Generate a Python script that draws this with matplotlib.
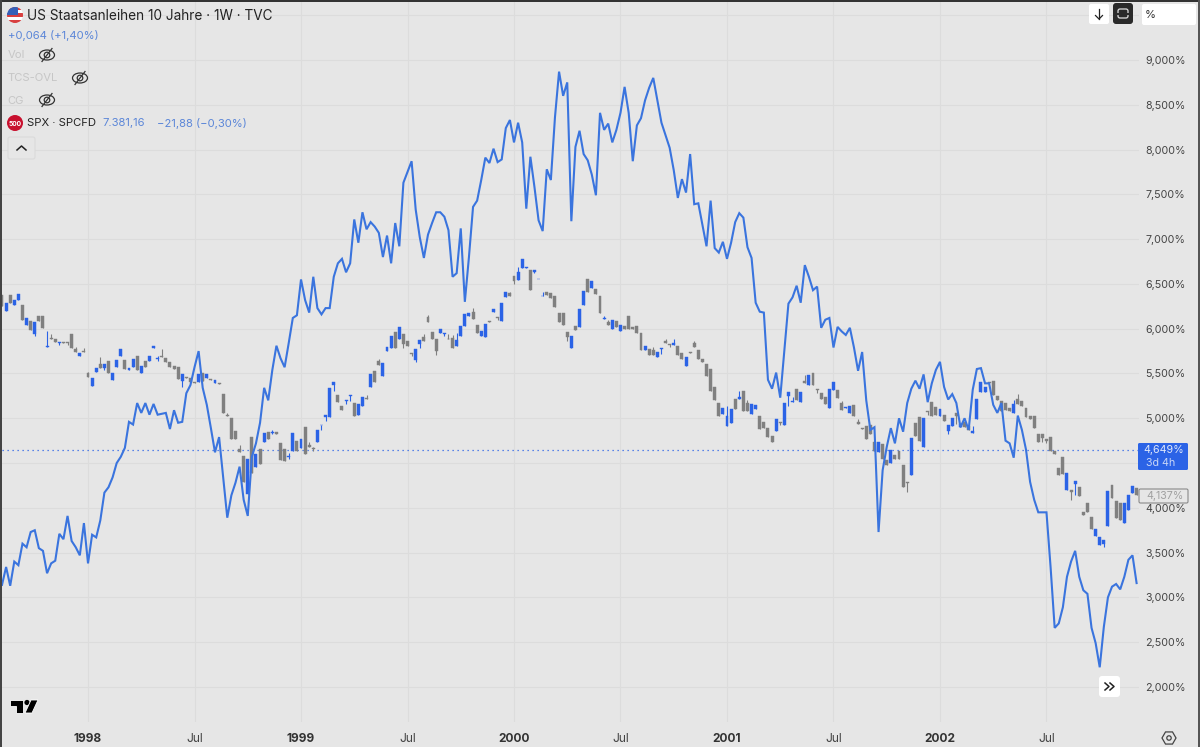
import numpy as np
import matplotlib
matplotlib.use('Agg')
import matplotlib.pyplot as plt
from matplotlib.patches import Circle, FancyBboxPatch, Polygon, Rectangle, Ellipse

plt.rcParams['font.family'] = ['Inter', 'DejaVu Sans']

# SPX overlay, one value per week, read on the right hand scale
spx = [3.14, 3.34, 3.13, 3.40, 3.36, 3.60, 3.56, 3.73, 3.75, 3.55,
       3.52, 3.27, 3.38, 3.41, 3.71, 3.65, 3.91, 3.63, 3.56, 3.47,
       3.83, 3.38, 3.70, 3.67, 3.86, 4.17, 4.23, 4.34, 4.50, 4.57,
       4.67, 4.96, 4.93, 5.17, 5.06, 5.17, 5.04, 5.16, 5.04, 5.05,
       5.06, 4.88, 5.09, 4.95, 4.96, 5.28, 5.37, 5.57, 5.75, 5.34,
       5.15, 4.89, 4.62, 4.79, 4.34, 3.89, 4.14, 4.28, 4.46, 4.09,
       3.91, 4.57, 4.72, 4.95, 5.34, 5.20, 5.54, 5.81, 5.67, 5.57,
       5.84, 6.12, 6.15, 6.55, 6.32, 6.18, 6.58, 6.23, 6.16, 6.23,
       6.23, 6.58, 6.73, 6.78, 6.63, 6.73, 7.22, 6.96, 7.30, 7.11,
       7.19, 7.14, 7.07, 6.80, 7.04, 6.73, 7.18, 6.92, 7.63, 7.75,
       7.87, 7.33, 7.02, 6.79, 7.05, 7.18, 7.30, 7.30, 7.25, 7.10,
       6.58, 6.62, 7.12, 6.30, 6.80, 7.36, 7.43, 7.66, 7.91, 7.85,
       8.01, 7.86, 7.89, 8.24, 8.33, 8.08, 8.30, 8.08, 7.34, 7.92,
       7.58, 7.21, 7.09, 7.78, 7.66, 8.36, 8.87, 8.60, 8.75, 7.20,
       8.03, 8.21, 7.95, 7.88, 7.72, 7.49, 8.41, 8.22, 8.29, 8.08,
       8.22, 8.41, 8.70, 8.41, 7.87, 8.27, 8.35, 8.55, 8.69, 8.80,
       8.55, 8.30, 8.16, 8.02, 7.77, 7.46, 7.67, 7.52, 7.95, 7.39,
       7.40, 7.16, 6.92, 7.43, 6.90, 6.85, 6.97, 6.78, 6.96, 7.19,
       7.29, 7.24, 6.91, 6.79, 6.29, 6.19, 6.18, 5.43, 5.33, 5.51,
       5.23, 5.76, 6.28, 6.35, 6.48, 6.29, 6.71, 6.58, 6.43, 6.47,
       6.01, 6.10, 6.12, 5.79, 6.02, 5.97, 5.93, 6.01, 5.79, 5.53,
       5.74, 5.20, 4.87, 4.90, 3.73, 4.42, 4.68, 4.89, 4.72, 5.00,
       4.85, 5.17, 5.33, 5.42, 5.33, 5.49, 5.18, 5.39, 5.54, 5.63,
       5.35, 5.21, 5.27, 5.17, 4.90, 5.00, 4.87, 5.32, 5.55, 5.56,
       5.39, 5.39, 5.15, 5.06, 5.17, 4.75, 4.72, 4.56, 5.03, 4.87,
       4.65, 4.29, 4.09, 3.95, 3.95, 3.95, 3.34, 2.66, 2.71, 2.89,
       3.23, 3.40, 3.52, 3.23, 3.08, 3.04, 2.66, 2.49, 2.22, 2.67,
       3.00, 3.12, 3.15, 3.09, 3.23, 3.42, 3.47, 3.16]

# 10 year yield candles
opens = [6.38, 6.20, 6.38, 6.27, 6.32, 6.27, 6.04, 6.09, 5.94, 6.14,
         6.14, 5.80, 5.90, 5.89, 5.84, 5.85, 5.85, 5.94, 5.77, 5.69,
         5.75, 5.50, 5.36, 5.52, 5.61, 5.56, 5.64, 5.43, 5.57, 5.69,
         5.65, 5.54, 5.57, 5.70, 5.50, 5.64, 5.64, 5.78, 5.66, 5.70,
         5.67, 5.63, 5.58, 5.57, 5.42, 5.46, 5.45, 5.40, 5.40, 5.50,
         5.45, 5.44, 5.39, 5.39, 5.27, 5.04, 5.00, 4.86, 4.66, 4.58,
         4.16, 4.79, 4.46, 4.66, 4.74, 4.85, 4.84, 4.85, 4.72, 4.66,
         4.57, 4.64, 4.75, 4.67, 4.90, 4.70, 4.67, 4.74, 4.92, 5.01,
         5.01, 5.37, 5.26, 5.14, 5.19, 5.25, 5.17, 5.04, 5.14, 5.23,
         5.35, 5.53, 5.64, 5.47, 5.75, 5.79, 5.96, 5.88, 5.94, 5.86,
         5.73, 5.65, 5.83, 5.91, 6.13, 5.96, 5.88, 5.95, 5.94, 5.89,
         5.90, 5.81, 5.92, 6.03, 6.14, 6.19, 6.04, 5.92, 5.91, 6.09,
         6.19, 6.13, 6.09, 6.35, 6.40, 6.59, 6.54, 6.68, 6.68, 6.65,
         6.63, 6.55, 6.36, 6.41, 6.40, 6.36, 6.18, 6.17, 5.96, 5.79,
         6.03, 6.02, 6.27, 6.56, 6.45, 6.44, 6.37, 6.11, 6.07, 6.00,
         6.09, 5.98, 6.03, 6.14, 6.02, 6.03, 5.95, 5.76, 5.77, 5.76,
         5.68, 5.77, 5.86, 5.83, 5.82, 5.81, 5.73, 5.58, 5.74, 5.84,
         5.76, 5.66, 5.61, 5.55, 5.35, 5.17, 5.05, 4.91, 4.95, 5.22,
         5.21, 5.30, 5.17, 5.05, 5.10, 5.03, 4.96, 4.89, 4.80, 4.86,
         4.96, 4.92, 5.25, 5.18, 5.33, 5.18, 5.42, 5.37, 5.51, 5.33,
         5.28, 5.24, 5.12, 5.32, 5.32, 5.17, 5.11, 5.06, 5.15, 4.96,
         4.89, 4.91, 4.92, 4.73, 4.62, 4.71, 4.53, 4.50, 4.59, 4.63,
         4.48, 4.29, 4.37, 4.95, 5.01, 4.68, 5.08, 5.18, 5.13, 5.02,
         5.04, 4.86, 4.91, 5.06, 4.90, 4.96, 4.91, 4.84, 4.99, 5.29,
         5.29, 5.40, 5.42, 5.25, 5.19, 5.17, 5.11, 5.06, 5.21, 5.19,
         5.12, 5.03, 5.03, 4.83, 4.82, 4.77, 4.79, 4.63, 4.44, 4.57,
         4.20, 4.20, 4.27, 4.23, 3.95, 4.05, 3.90, 3.69, 3.59, 3.60,
         3.80, 4.25, 4.08, 4.05, 3.83, 3.98, 4.17, 4.22]
closes = [6.25, 6.29, 6.29, 6.32, 6.39, 6.10, 6.12, 5.99, 6.07, 6.09,
          6.01, 5.81, 5.89, 5.85, 5.85, 5.84, 5.84, 5.79, 5.74, 5.73,
          5.74, 5.46, 5.45, 5.56, 5.56, 5.61, 5.51, 5.50, 5.65, 5.77,
          5.55, 5.56, 5.66, 5.54, 5.58, 5.57, 5.70, 5.81, 5.67, 5.68,
          5.63, 5.57, 5.55, 5.44, 5.49, 5.45, 5.40, 5.39, 5.49, 5.42,
          5.49, 5.43, 5.43, 5.38, 5.06, 5.02, 4.77, 4.77, 4.62, 4.29,
          4.55, 4.39, 4.60, 4.49, 4.84, 4.77, 4.85, 4.82, 4.53, 4.52,
          4.58, 4.84, 4.64, 4.77, 4.60, 4.68, 4.66, 4.87, 4.93, 5.04,
          5.34, 5.41, 5.18, 5.09, 5.20, 5.26, 5.03, 5.16, 5.24, 5.22,
          5.49, 5.40, 5.59, 5.62, 5.80, 5.92, 5.78, 6.02, 5.83, 5.81,
          5.72, 5.77, 5.87, 5.86, 6.07, 5.88, 5.75, 6.00, 5.95, 5.88,
          5.79, 5.87, 6.03, 6.16, 6.18, 6.11, 5.95, 5.97, 6.05, 6.08,
          6.22, 6.12, 6.29, 6.41, 6.37, 6.53, 6.63, 6.78, 6.69, 6.43,
          6.66, 6.56, 6.37, 6.38, 6.34, 6.24, 6.08, 6.04, 5.91, 5.92,
          5.99, 6.22, 6.42, 6.41, 6.53, 6.39, 6.18, 6.12, 6.04, 6.10,
          6.02, 6.04, 6.00, 6.00, 6.00, 5.95, 5.76, 5.81, 5.71, 5.71,
          5.74, 5.78, 5.84, 5.82, 5.84, 5.71, 5.66, 5.68, 5.73, 5.80,
          5.66, 5.63, 5.47, 5.30, 5.20, 5.03, 5.11, 5.03, 5.10, 5.10,
          5.24, 5.08, 5.08, 5.16, 5.15, 4.88, 4.89, 4.79, 4.74, 4.99,
          4.95, 5.17, 5.29, 5.19, 5.20, 5.29, 5.39, 5.48, 5.37, 5.32,
          5.22, 5.16, 5.33, 5.40, 5.23, 5.09, 5.13, 5.14, 5.03, 4.94,
          4.88, 4.77, 4.82, 4.63, 4.73, 4.55, 4.48, 4.65, 4.55, 4.54,
          4.23, 4.28, 4.78, 4.80, 4.75, 5.00, 5.07, 5.03, 5.04, 5.10,
          4.97, 4.92, 5.00, 5.03, 4.94, 4.90, 4.87, 4.86, 5.22, 5.40,
          5.35, 5.39, 5.26, 5.20, 5.08, 5.09, 5.08, 5.16, 5.16, 5.14,
          5.01, 4.99, 4.89, 4.73, 4.78, 4.75, 4.63, 4.60, 4.37, 4.38,
          4.39, 4.18, 4.30, 4.13, 3.92, 3.95, 3.76, 3.76, 3.68, 3.64,
          4.19, 4.11, 3.89, 3.86, 4.05, 4.14, 4.24, 4.14]
# weeks with a wick outside the body
highs = {11: 5.97, 12: 5.94, 18: 5.80, 20: 5.78, 21: 5.52, 24: 5.68, 38: 5.69, 39: 5.77,
         55: 5.06, 58: 4.70, 66: 4.87, 70: 4.61, 75: 4.73, 76: 4.68, 89: 5.26, 92: 5.66,
         103: 5.94, 104: 6.15, 109: 5.94, 110: 5.93, 111: 5.95, 115: 6.23, 124: 6.41,
         126: 6.69, 132: 6.41, 147: 6.14, 148: 6.10, 159: 5.80, 162: 5.89, 164: 5.89,
         169: 5.86, 177: 5.14, 180: 5.30, 182: 5.20, 193: 5.24, 196: 5.48, 205: 5.19,
         209: 4.99, 237: 4.91, 247: 5.20, 248: 5.27}
lows = {8: 5.92, 14: 5.82, 16: 5.82, 25: 5.54, 38: 5.64, 44: 5.35, 66: 4.83, 70: 4.55,
        76: 4.64, 78: 4.87, 79: 4.97, 81: 5.30, 84: 5.16, 85: 5.19, 98: 5.78, 100: 5.69,
        101: 5.63, 102: 5.79, 106: 5.71, 108: 5.92, 121: 6.10, 125: 6.50, 130: 6.62,
        138: 5.86, 161: 5.72, 163: 5.80, 190: 4.93, 192: 5.14, 199: 5.28, 221: 4.18,
        226: 5.04, 231: 4.83, 233: 4.94, 254: 4.73, 255: 4.72, 261: 4.09, 262: 4.14,
        269: 3.56}

y_ticks = [9.5, 9, 8.5, 8, 7.5, 7, 6.5, 6, 5.5, 5, 4.5, 4, 3.5, 3, 2.5, 2]
y_labels = ['', '9,000%', '8,500%', '8,000%', '7,500%', '7,000%', '6,500%', '6,000%',
            '5,500%', '5,000%', '', '4,000%', '3,500%', '3,000%', '2,500%', '2,000%']
x_ticks = [21, 47, 73, 99, 125, 151, 177, 203, 229, 255]
x_labels = ['1998', 'Jul', '1999', 'Jul', '2000', 'Jul', '2001', 'Jul', '2002', 'Jul']
last_yield = 4.649
last_spx = 4.137

bg = '#e6e6e6'
grid_col = '#dcdcdc'
blue = '#2b63e6'
gray = '#808080'
line_col = '#3a74de'
small = 8.1

W, H = 1200, 747
fig = plt.figure(figsize=(W / 100, H / 100), dpi=100, facecolor=bg)
ax = fig.add_axes([2 / W, 1 - 722 / H, 1137 / W, 720 / H], facecolor=bg)

weeks = np.arange(len(spx))
opens = np.array(opens)
closes = np.array(closes)
top = np.maximum(opens, closes)
low = np.minimum(opens, closes)
hi = np.array([highs.get(i, t) for i, t in enumerate(top)])
lo = np.array([lows.get(i, b) for i, b in enumerate(low)])
cols = [blue if c >= o else gray for o, c in zip(opens, closes)]

ax.vlines(weeks, lo, hi, colors=cols, lw=0.8, zorder=2)
ax.bar(weeks, top - low, bottom=low, width=0.72, color=cols, lw=0.3, edgecolor=cols, zorder=3)
ax.plot(weeks, spx, color=line_col, lw=1.5, zorder=4, solid_joinstyle='miter')
ax.axhline(last_yield, color=blue, lw=0.9, ls=(0, (1, 3)), zorder=1.5)

ax.set_xlim(0, 1137 / 4.096)
ax.set_ylim(9 - 662 / 89.57, 9 + 58 / 89.57)
ax.set_xticks(x_ticks, x_labels)
ax.set_yticks(y_ticks, y_labels)
ax.yaxis.tick_right()
ax.tick_params(length=0, labelcolor='#444444')
ax.tick_params(axis='y', pad=4.5, labelsize=7.7)
ax.tick_params(axis='x', pad=8, labelsize=8.6)
for lab in ax.get_xticklabels():
    if lab.get_text() != 'Jul':
        lab.set_fontweight('bold')
        lab.set_color('#333333')
ax.grid(True, color=grid_col, lw=0.8)
ax.set_axisbelow(True)
for s in ax.spines.values():
    s.set_visible(False)

# overlay in screen pixels for the TradingView furniture
ov = fig.add_axes([0, 0, 1, 1], facecolor='none', zorder=10)
ov.set_xlim(0, W)
ov.set_ylim(H, 0)
ov.axis('off')


def box(x0, y0, x1, y1, fc, ec='none', r=2, lw=0.8):
    ov.add_patch(FancyBboxPatch((x0 + r, y0 + r), x1 - x0 - 2 * r, y1 - y0 - 2 * r,
                                boxstyle='round,pad=%f,rounding_size=%f' % (r, r),
                                fc=fc, ec=ec, lw=lw))


def eye(x, y):
    ov.add_patch(Ellipse((x, y), 15, 10, fc='none', ec='#333333', lw=0.9))
    ov.add_patch(Circle((x, y), 2.8, fc='none', ec='#333333', lw=0.9))
    ov.plot([x - 5, x + 5], [y + 6.5, y - 6.5], color='#333333', lw=0.9)


# window edge
ov.add_patch(Rectangle((0, 0), W, 2, fc='#333333', ec='none'))
ov.add_patch(Rectangle((0, 0), 2, H, fc='#444444', ec='none'))
ov.add_patch(Rectangle((W - 2, 0), 2, H, fc='#555555', ec='none'))

# legend
flag = Circle((15, 15), 8, transform=ov.transData)
im = ov.imshow([[[0.85, 0.25, 0.25]], [[1, 1, 1]], [[0.85, 0.25, 0.25]], [[1, 1, 1]], [[0.85, 0.25, 0.25]]],
               extent=(7, 23, 23, 7), aspect='auto', zorder=2)
im.set_clip_path(flag)
canton = ov.add_patch(Rectangle((7, 7), 11, 8, fc='#3560b8', ec='none', zorder=3))
canton.set_clip_path(flag)
ov.set_xlim(0, W)
ov.set_ylim(H, 0)

ov.text(27, 15.5, 'US Staatsanleihen 10 Jahre · 1W · TVC', fontsize=9.8, color='#222222', va='center')
ov.text(7.5, 35.5, '+0,064 (+1,40%)', fontsize=small, color='#5b86d8', va='center')
ov.text(7.5, 55.5, 'Vol', fontsize=small, color='#c6c6c6', va='center')
eye(47, 55)
ov.text(7.5, 78, 'TCS-OVL', fontsize=small, color='#c6c6c6', va='center')
eye(80, 78)
ov.text(7.5, 100.5, 'CG', fontsize=small, color='#c6c6c6', va='center')
eye(47, 100)
ov.add_patch(Circle((15, 123), 8, fc='#c8102e', ec='none'))
ov.text(15, 123.5, '500', fontsize=4.8, color='white', ha='center', va='center', fontweight='bold')
ov.text(27, 123.5, 'SPX · SPCFD', fontsize=small, color='#222222', va='center')
ov.text(102.5, 123.5, '7.381,16', fontsize=small, color='#5b86d8', va='center')
ov.text(157, 123.5, '−21,88 (−0,30%)', fontsize=small, color='#5b86d8', va='center')
box(8, 137, 35, 159, bg, ec='#dadada')
ov.plot([17, 21.5, 26], [150, 146, 150], color='#222222', lw=1.1)

# top right buttons
box(1089, 4, 1109, 24, 'white')
ov.plot([1099, 1099], [9, 19], color='#222222', lw=0.9)
ov.plot([1095.5, 1099, 1102.5], [15.5, 19, 15.5], color='#222222', lw=0.9)
box(1113, 3, 1133, 24, '#2a2a2a', r=3)
box(1118, 9, 1128, 18, '#2a2a2a', ec='#e0e0e0', r=2, lw=0.9)
ov.add_patch(Rectangle((1117, 12.5), 12, 2, fc='#2a2a2a', ec='none'))
box(1142, 4, 1196, 25, 'white')
ov.text(1145, 15, '%', fontsize=small, color='#333333', va='center')

# last value labels
box(1138, 443, 1188, 470, blue, r=1.5)
ov.text(1184, 450, '4,649%', fontsize=7.7, color='#dfe8fb', ha='right', va='center')
ov.text(1146, 462.5, '3d 4h', fontsize=7.7, color='#c8d6f7', va='center')
box(1139, 489, 1188, 503, bg, ec='#8a8a8a', r=1.5)
ov.text(1184, 496, '4,137%', fontsize=7.7, color='#a0a0a0', ha='right', va='center')

# scroll button
box(1099, 676, 1120, 697, 'white', r=3)
ov.plot([1105, 1109, 1105], [683, 686.5, 690], color='#222222', lw=1.1)
ov.plot([1110, 1114, 1110], [683, 686.5, 690], color='#222222', lw=1.1)

# settings icon
a = np.deg2rad(np.arange(0, 360, 60))
ov.add_patch(Polygon(np.c_[1169 + 7 * np.cos(a), 738 + 7 * np.sin(a)], fc='none', ec='#444444', lw=0.9))
ov.add_patch(Circle((1169, 738), 2.2, fc='none', ec='#444444', lw=0.9))

# logo
ov.add_patch(Polygon([(10, 700), (23, 700), (23, 713), (16, 713), (16, 706), (10, 706)], fc='black', ec='white', lw=0.6))
ov.add_patch(Circle((27, 702.5), 2.6, fc='black', ec='none'))
ov.add_patch(Polygon([(31, 700), (38, 700), (32, 713), (25, 713)], fc='black', ec='white', lw=0.6))

fig.savefig('out.png', dpi=100, facecolor=bg)
